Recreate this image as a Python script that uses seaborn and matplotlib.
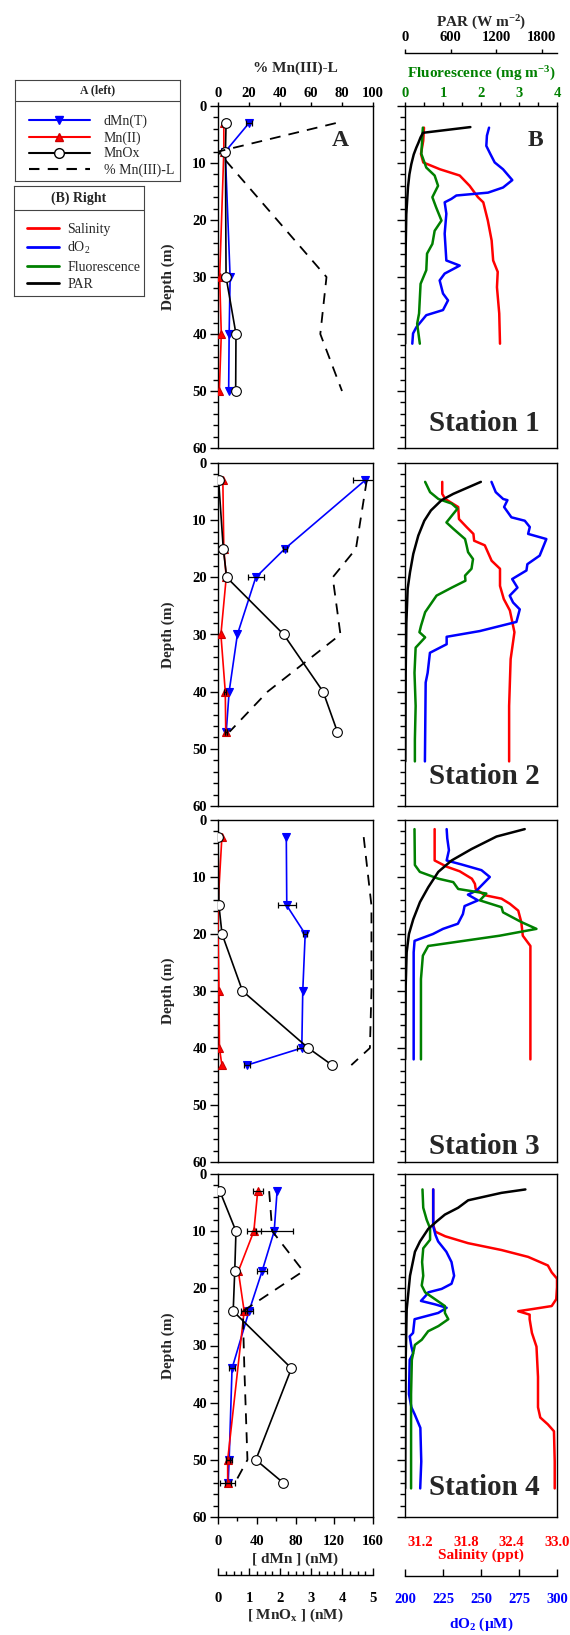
import numpy as np
import matplotlib
matplotlib.use('Agg')
import matplotlib.pyplot as plt
from matplotlib.lines import Line2D
from matplotlib.ticker import MultipleLocator
import seaborn as sns

# ---------------- panel A : discrete bottle samples ----------------
# station 1
z_a1 = [3, 8, 30, 40, 50]
dmnt_a1 = [32, 7.5, 12.5, 11.5, 11]
dmnt_err_a1 = [3.5, 0, 0, 0, 0]
mn2_z_a1 = [3, 8, 30, 40, 50]
mn2_a1 = [6, 6, 1.7, 3.4, 1.4]
mn2_err_a1 = [0, 0, 0, 0, 0]
mnox_a1 = [0.26, 0.24, 0.26, 0.58, 0.57]
pct_a1 = [76, 0, 70, 66, 80]

# station 2
z_a2 = [3, 15, 20, 30, 40, 47]
dmnt_a2 = [152, 69, 39, 20, 11.5, 8.5]
dmnt_err_a2 = [13, 2, 8.5, 0, 0, 1]
mn2_z_a2 = [3, 15, 20, 30, 40, 47]
mn2_a2 = [5, 6, 8.5, 3, 7.5, 8]
mn2_err_a2 = [0, 0, 0, 0, 1, 1]
mnox_a2 = [0.02, 0.17, 0.28, 2.12, 3.39, 3.85]
pct_a2 = [96, 89, 74, 79, 32, 7.5]

# station 3
z_a3 = [3, 15, 20, 30, 40, 43]
dmnt_a3 = [70.5, 71, 90, 87.5, 86.5, 30]
dmnt_err_a3 = [0, 9.5, 2, 0, 5, 3]
mn2_z_a3 = [3, 15, 20, 30, 40, 43]
mn2_a3 = [4, 0, 0, 1, 1.5, 4]
mn2_err_a3 = [0, 0, 0, 0, 0, 0]
mnox_a3 = [0.0, 0.03, 0.13, 0.79, 2.91, 3.68]
pct_a3 = [94, 99, 99, 99, 98, 86]

# station 4
z_a4 = [3, 10, 17, 24, 34, 50, 54]
dmnt_a4 = [61, 58, 45.5, 32, 14.5, 11.5, 10.5]
dmnt_err_a4 = [0, 19, 5, 4, 3, 3, 3]
mn2_z_a4 = [3, 10, 17, 24, 50, 54]
mn2_a4 = [41, 37, 21, 27, 10, 10]
mn2_err_a4 = [5, 7, 0, 3, 2, 8]
mnox_a4 = [0.06, 0.58, 0.54, 0.49, 2.37, 1.22, 2.10]
pct_a4 = [33, 35, 55, 16, 17, 19, 11]

# ---------------- panel B : CTD profiles ----------------
# station 1
par_z1 = [3.7, 4.7, 5.5, 6.5, 7.3, 8.5, 10.2, 12, 14.3, 19, 24.8, 30, 41.7]
par1 = [860, 237, 205, 175, 149, 115, 83, 58, 39, 17, 9, 5, 2]
fl_z1 = [3.8, 8.4, 10.8, 12.2, 14, 16, 17.8, 20.1, 21.9, 24.2, 25.9, 28.8, 31.2, 36.4, 38.2, 41.7]
fl1 = [0.47, 0.43, 0.56, 0.78, 0.87, 0.72, 0.82, 0.96, 0.78, 0.72, 0.58, 0.56, 0.41, 0.37, 0.32, 0.39]
sal_z1 = [3.8, 6.1, 8.4, 9.9, 11.1, 12.2, 14, 16, 16.9, 20.1, 23.6, 27.1, 29.1, 31.8, 36.4, 41.7]
sal1 = [31.25, 31.24, 31.21, 31.24, 31.46, 31.72, 31.85, 31.96, 32.03, 32.09, 32.14, 32.16, 32.22, 32.21,
        32.24, 32.25]
ox_z1 = [3.8, 5.2, 7, 8.4, 9.9, 11.1, 13, 14.3, 15.2, 15.7, 16.3, 16.9, 18.9, 22.4, 27.1, 28, 29.4, 30.6,
         32.9, 34.1, 35.8, 36.7, 38.8, 39.9, 41.7]
ox1 = [255.3, 253.9, 253.5, 256.1, 259, 264.5, 270.6, 264.5, 254.6, 233.8, 230.5, 226.1, 227.2, 226.1, 227.2,
       236, 226.1, 222.8, 225, 228.3, 225, 214, 207.5, 205.3, 204.8]

# station 2
par_z2 = [3.3, 5.4, 6.5, 8.3, 10.1, 12.7, 15.9, 19.1, 22, 27.9, 36.7, 52.2]
par2 = [998, 635, 481, 341, 254, 175, 109, 66, 35, 18, 9, 4]
fl_z2 = [3.3, 5.1, 6.3, 7.1, 8, 8.9, 10.4, 11.5, 13.3, 14.4, 15.6, 16.8, 18.5, 19.7, 20.6, 21.8, 23.2, 26.1,
         28.5, 29.6, 30.5, 32.3, 36.7, 42.5, 48.4, 52.2]
fl2 = [0.53, 0.66, 0.88, 1.23, 1.38, 1.27, 1.09, 1.27, 1.58, 1.62, 1.66, 1.79, 1.75, 1.58, 1.59, 1.23, 0.83,
       0.53, 0.42, 0.38, 0.53, 0.28, 0.25, 0.28, 0.26, 0.26]
sal_z2 = [3.3, 5.4, 6.3, 7.7, 9.8, 11.2, 12.4, 13.6, 14.4, 15.9, 17.1, 18.5, 21.5, 23.8, 25.8, 29.6, 34.3,
          42.5, 52.2]
sal2 = [31.49, 31.49, 31.53, 31.70, 31.71, 31.81, 31.90, 31.91, 32.05, 32.10, 32.14, 32.25, 32.25, 32.30,
        32.38, 32.44, 32.39, 32.37, 32.37]
ox_z2 = [3.3, 5.1, 6.3, 6.5, 7.7, 9.5, 10.1, 11.2, 12.4, 13.3, 16.2, 17.7, 18.8, 20.3, 21.8, 23.2, 24.4,
         25.6, 27.8, 29.4, 30.4, 31.7, 33.2, 36.7, 38.4, 52.2]
ox2 = [256.9, 259.7, 264.6, 267.4, 265.2, 270, 278.8, 282.1, 281, 293, 288.6, 280.5, 279.9, 270.5, 274,
       268.9, 271.1, 275.5, 273.3, 249.2, 227.4, 227.4, 216.4, 214.9, 213.6, 213.1]

# station 3
par_z3 = [1.6, 2.9, 5.1, 7.1, 9.1, 11.8, 14.4, 17.4, 20, 23.2, 29.1, 42]
par3 = [1575, 1204, 875, 613, 438, 306, 197, 109, 52, 22, 9, 2]
fl_z3 = [1.6, 7.9, 9.1, 10.3, 10.9, 12.1, 12.9, 14.1, 15.3, 16.2, 17.9, 19.1, 20.3, 22.1, 23.8, 27.9, 42]
fl3 = [0.25, 0.26, 0.39, 0.88, 1.27, 1.40, 2.14, 1.97, 2.54, 2.58, 3.06, 3.46, 2.49, 0.61, 0.47, 0.42, 0.42]
sal_z3 = [1.6, 7.1, 8.2, 9, 10.3, 11.2, 12.1, 13.2, 13.8, 14.7, 15.9, 17.9, 20.3, 21.2, 22.1, 42]
sal3 = [31.39, 31.39, 31.55, 31.72, 31.88, 31.92, 31.93, 32.05, 32.27, 32.38, 32.49, 32.53, 32.55, 32.60,
        32.65, 32.65]
ox_z3 = [1.6, 3.2, 5.3, 7.1, 7.8, 8.8, 10, 12.4, 13.1, 14.1, 15.1, 16.5, 18.2, 19.1, 20, 21.2, 23.2, 42]
ox3 = [227.4, 227.8, 228.9, 227.4, 237.2, 250.3, 255.8, 247, 241.4, 248, 239.2, 238.1, 234.8, 225, 218.4,
       206.3, 205.7, 205.7]

# station 4
par_z4 = [2.7, 3.3, 4.6, 5.9, 7.1, 8.3, 9.6, 11.8, 13.6, 17.8, 23.7, 32.5, 55]
par4 = [1584, 1269, 831, 700, 525, 416, 306, 197, 131, 66, 22, 9, 2]
fl_z4 = [2.7, 5.9, 8, 9.5, 11.5, 13, 15.4, 17.8, 19.5, 20.7, 21.9, 23.1, 24.3, 25.4, 26.6, 27.5, 29, 29.9,
         32.5, 38.5, 55]
fl4 = [0.46, 0.48, 0.57, 0.66, 0.66, 0.48, 0.45, 0.48, 0.44, 0.53, 0.79, 1.05, 1.05, 1.14, 0.88, 0.61, 0.44,
       0.26, 0.18, 0.16, 0.16]
sal_z4 = [2.7, 8.9, 10.1, 10.9, 12.1, 13.3, 14.5, 16, 17.2, 18.3, 19.8, 21.9, 23.1, 23.6, 24.0, 24.6, 25.4,
          27.8, 30.2, 35.5, 40.8, 42.6, 43.8, 45, 50.3, 55]
sal4 = [31.37, 31.37, 31.40, 31.53, 31.83, 32.27, 32.62, 32.88, 32.93, 33.0, 33.0, 32.99, 32.93, 32.69, 32.49,
        32.64, 32.64, 32.67, 32.73, 32.75, 32.75, 32.78, 32.88, 32.96, 32.97, 32.97]
ox_z4 = [2.7, 9.2, 10.7, 11.8, 13.6, 15.4, 17.8, 19.2, 20.1, 20.7, 21.3, 22.2, 22.8, 23.4, 24.3, 25.4, 27.8,
         28.4, 30.2, 31.4, 32.5, 38.5, 40.8, 42, 44.4, 50.3, 55]
ox4 = [218.6, 218.6, 220.1, 221.8, 227.2, 230.6, 232.3, 230.6, 224.1, 215.3, 213.6, 210.5, 219.7, 227.4,
       221.9, 206.3, 205.3, 203.1, 204.2, 205.3, 203.1, 202.6, 204.2, 206.3, 210.1, 210.7, 210]

station_names = ['Station 1', 'Station 2', 'Station 3', 'Station 4']
sal_ticks = [31.2, 31.8, 32.4, 33.0]
ox_ticks = [200, 225, 250, 275, 300]

panelA = [
    (z_a1, dmnt_a1, dmnt_err_a1, mn2_z_a1, mn2_a1, mn2_err_a1, mnox_a1, pct_a1),
    (z_a2, dmnt_a2, dmnt_err_a2, mn2_z_a2, mn2_a2, mn2_err_a2, mnox_a2, pct_a2),
    (z_a3, dmnt_a3, dmnt_err_a3, mn2_z_a3, mn2_a3, mn2_err_a3, mnox_a3, pct_a3),
    (z_a4, dmnt_a4, dmnt_err_a4, mn2_z_a4, mn2_a4, mn2_err_a4, mnox_a4, pct_a4),
]
panelB = [
    (sal_z1, sal1, ox_z1, ox1, fl_z1, fl1, par_z1, par1),
    (sal_z2, sal2, ox_z2, ox2, fl_z2, fl2, par_z2, par2),
    (sal_z3, sal3, ox_z3, ox3, fl_z3, fl3, par_z3, par3),
    (sal_z4, sal4, ox_z4, ox4, fl_z4, fl4, par_z4, par4),
]

# ---------------- style ----------------
sns.set_style('ticks')
plt.rcParams['font.family'] = ['Liberation Serif', 'DejaVu Serif']
plt.rcParams['font.weight'] = 'bold'
plt.rcParams['axes.linewidth'] = 1.0
plt.rcParams['xtick.color'] = 'black'
plt.rcParams['ytick.color'] = 'black'
plt.rcParams['axes.edgecolor'] = 'black'

W, H = 570, 1635
fig = plt.figure(figsize=(W / 100, H / 100), dpi=100)


def rect(x0, y0, x1, y1):
    return [x0 / W, 1 - y1 / H, (x1 - x0) / W, (y1 - y0) / H]


def hide_x(ax):
    ax.tick_params(axis='x', which='both', bottom=False, top=False, labelbottom=False, labeltop=False)


def depth_axis(ax, labels):
    ax.set_ylim(60, 0)
    ax.yaxis.set_major_locator(MultipleLocator(10))
    ax.yaxis.set_minor_locator(MultipleLocator(2))
    ax.tick_params(axis='y', which='major', direction='out', length=6, width=1, labelsize=10.5, pad=2,
                   left=True, right=False, labelleft=labels)
    ax.tick_params(axis='y', which='minor', direction='out', length=3.5, width=1, left=True, right=False)


def only_spine(ax, keep=None):
    for k, s in ax.spines.items():
        s.set_visible(k == keep)


rows = [(106, 448), (463, 806), (820, 1162), (1174, 1517)]
station_y = [0.073, 0.085, 0.045, 0.085]
AX0, AX1 = 218, 373
BX0, BX1 = 405, 557

for i, (top, bot) in enumerate(rows):
    z, dmnt, dmnt_err, mz, mn2, mn2_err, mnox, pct = panelA[i]
    sz, sal, oz, ox, fz, fl, pz, par = panelB[i]

    # ---------- panel A ----------
    axA = fig.add_axes(rect(AX0, top, AX1, bot))
    axM = axA.twiny()
    axP = axA.twiny()

    sns.lineplot(x=dmnt, y=z, ax=axA, sort=False, estimator=None, color='blue', lw=1.2,
                 marker='v', markersize=6, markeredgecolor='blue', markeredgewidth=0.8, legend=False, zorder=3)
    sns.lineplot(x=mn2, y=mz, ax=axA, sort=False, estimator=None, color='red', lw=1.2,
                 marker='^', markersize=6, markeredgecolor='#cc0000', markeredgewidth=0.8, legend=False, zorder=3)
    for xs, ys, es in ((dmnt, z, dmnt_err), (mn2, mz, mn2_err)):
        sel = [k for k, e in enumerate(es) if e > 0]
        if sel:
            axA.errorbar([xs[k] for k in sel], [ys[k] for k in sel], xerr=[es[k] for k in sel], fmt='none',
                         ecolor='black', elinewidth=0.9, capsize=2.5, capthick=0.9, zorder=4)
    sns.lineplot(x=mnox, y=z, ax=axM, sort=False, estimator=None, color='black', lw=1.2,
                 marker='o', markersize=7, markerfacecolor='white', markeredgecolor='black',
                 markeredgewidth=0.8, legend=False)
    sns.lineplot(x=pct, y=z, ax=axP, sort=False, estimator=None, color='black', lw=1.3,
                 linestyle=(0, (6, 4.5)), legend=False)

    axA.set_xlim(0, 160)
    axM.set_xlim(0, 5)
    axP.set_xlim(0, 100)
    depth_axis(axA, True)
    for a in (axA, axM, axP):
        a.set_xlabel('')
        a.set_ylabel('')
        hide_x(a)
    only_spine(axM)
    only_spine(axP)

    if i == 0:
        axP.xaxis.set_major_locator(MultipleLocator(20))
        axP.tick_params(axis='x', which='major', top=True, labeltop=True, direction='out', length=3,
                        width=1, labelsize=10.5, pad=1.5)
        axA.text(0.79, 0.90, 'A', transform=axA.transAxes, ha='center', va='center', fontsize=17,
                 fontweight='bold')
    if i == 3:
        axA.xaxis.set_major_locator(MultipleLocator(40))
        axA.xaxis.set_minor_locator(MultipleLocator(20))
        axA.tick_params(axis='x', which='major', bottom=True, labelbottom=True, direction='out', length=5,
                        width=1, labelsize=10.5, pad=8)
        axA.tick_params(axis='x', which='minor', bottom=True, direction='out', length=3, width=1)
        axM.spines['bottom'].set_visible(True)
        axM.spines['bottom'].set_position(('outward', 41.8))
        axM.xaxis.set_ticks_position('bottom')
        axM.xaxis.set_major_locator(MultipleLocator(1))
        axM.xaxis.set_minor_locator(MultipleLocator(0.25))
        axM.tick_params(axis='x', which='major', bottom=True, labelbottom=True, direction='in', length=5,
                        width=1, labelsize=10.5, pad=12)
        axM.tick_params(axis='x', which='minor', bottom=True, direction='in', length=3, width=1)

    fig.text(168 / W, 1 - (top + bot) / 2 / H, 'Depth (m)', rotation=90, ha='center', va='center',
             fontsize=11, fontweight='bold')

    # ---------- panel B ----------
    axS = fig.add_axes(rect(BX0, top, BX1, bot))
    axO = axS.twiny()
    axF = axS.twiny()
    axR = axS.twiny()

    sns.lineplot(x=sal, y=sz, ax=axS, sort=False, estimator=None, color='red', lw=1.8, legend=False)
    sns.lineplot(x=ox, y=oz, ax=axO, sort=False, estimator=None, color='blue', lw=1.8, legend=False)
    sns.lineplot(x=fl, y=fz, ax=axF, sort=False, estimator=None, color='green', lw=1.8, legend=False)
    sns.lineplot(x=par, y=pz, ax=axR, sort=False, estimator=None, color='black', lw=1.8, legend=False)

    axS.set_xlim(31.0, 33.0)
    axO.set_xlim(200, 300)
    axF.set_xlim(0, 4)
    axR.set_xlim(0, 2000)
    depth_axis(axS, False)
    for a in (axS, axO, axF, axR):
        a.set_xlabel('')
        a.set_ylabel('')
        hide_x(a)
    only_spine(axO)
    only_spine(axF)
    only_spine(axR)

    axS.text(0.52, station_y[i], station_names[i], transform=axS.transAxes, ha='center', va='center',
             fontsize=21, fontweight='bold')

    if i == 0:
        axS.text(0.855, 0.90, 'B', transform=axS.transAxes, ha='center', va='center', fontsize=17,
                 fontweight='bold')
        axF.xaxis.set_major_locator(MultipleLocator(1))
        axF.xaxis.set_minor_locator(MultipleLocator(0.5))
        axF.tick_params(axis='x', which='both', top=True, direction='out', length=3, width=1)
        axF.tick_params(axis='x', which='major', labeltop=True, labelsize=10.5, pad=1.5,
                        labelcolor='green')
        axR.spines['top'].set_visible(True)
        axR.spines['top'].set_position(('outward', 38.5))
        axR.xaxis.set_major_locator(MultipleLocator(600))
        axR.tick_params(axis='x', which='major', top=True, labeltop=True, direction='out', length=3,
                        width=1, labelsize=10.5, pad=3)
    if i == 3:
        axS.set_xticks(sal_ticks, labels=[f'{t:.1f}' for t in sal_ticks])
        axS.tick_params(axis='x', which='major', bottom=True, labelbottom=True, length=0, labelsize=10.5,
                        pad=14, labelcolor='red')
        axO.spines['bottom'].set_visible(True)
        axO.spines['bottom'].set_position(('outward', 42.5))
        axO.xaxis.set_ticks_position('bottom')
        axO.set_xticks(ox_ticks)
        axO.tick_params(axis='x', which='major', bottom=True, labelbottom=True, direction='in', length=5,
                        width=1, labelsize=10.5, pad=12, labelcolor='blue')

# ---------------- axis titles ----------------
fig.text((AX0 + AX1) / 2 / W, 1 - 72 / H, '% Mn(III)-L', ha='center', va='baseline', fontsize=11)
fig.text((BX0 + BX1) / 2 / W, 1 - 78 / H, 'Fluorescence (mg m$\\mathregular{^{-3}}$)', ha='center',
         va='baseline', fontsize=11, color='green')
fig.text((BX0 + BX1) / 2 / W, 1 - 27 / H, 'PAR (W m$\\mathregular{^{-2}}$)', ha='center', va='baseline',
         fontsize=11)
fig.text((AX0 + AX1) / 2 / W, 1 - 1563 / H, '[ dMn ] (nM)', ha='center', va='baseline', fontsize=11)
fig.text((AX0 + AX1) / 2 / W, 1 - 1619 / H, '[ MnO$\\mathregular{_x}$ ] (nM)', ha='center', va='baseline',
         fontsize=11)
fig.text((BX0 + BX1) / 2 / W, 1 - 1559 / H, 'Salinity (ppt)', ha='center', va='baseline', fontsize=11,
         color='red')
fig.text((BX0 + BX1) / 2 / W, 1 - 1628 / H, 'dO$\\mathregular{_2}$ (\u00b5M)', ha='center', va='baseline',
         fontsize=11, color='blue')

# ---------------- legend boxes ----------------
def legend_box(x0, y0, x1, y1, yh, title, tsize, handles, labels, hlen, hpad, lspace, bpad):
    lg = fig.add_axes(rect(x0, y0, x1, y1))
    lg.set_xticks([])
    lg.set_yticks([])
    for s in lg.spines.values():
        s.set_color('#444444')
        s.set_linewidth(0.8)
    frac = 1 - (yh - y0) / (y1 - y0)
    lg.axhline(frac, color='#444444', lw=0.8)
    lg.text(0.5, (1 + frac) / 2, title, transform=lg.transAxes, ha='center', va='center', fontsize=tsize,
            fontweight='bold')
    lg.legend(handles, labels, loc='upper left', bbox_to_anchor=(0, frac), frameon=False,
              prop={'size': 10, 'weight': 'normal'}, handlelength=hlen, handletextpad=hpad,
              labelspacing=lspace, borderaxespad=0.2, borderpad=bpad, numpoints=1)


handlesA = [
    Line2D([], [], color='blue', lw=1.5, marker='v', ms=6, mec='blue'),
    Line2D([], [], color='red', lw=1.5, marker='^', ms=6, mec='#cc0000'),
    Line2D([], [], color='black', lw=1.5, marker='o', ms=7, mfc='white', mec='black'),
    Line2D([], [], color='black', lw=1.5, linestyle=(0, (5, 4))),
]
labelsA = ['dMn(T)', 'Mn(II)', 'MnOx', '% Mn(III)-L']
legend_box(15, 80, 180, 181, 101, 'A (left)', 8.5, handlesA, labelsA, 4.4, 1.0, 0.2, 0.8)

handlesB = [Line2D([], [], color=c, lw=2) for c in ('red', 'blue', 'green', 'black')]
labelsB = ['Salinity', 'dO$\\mathregular{_2}$', 'Fluorescence', 'PAR']
legend_box(14, 186, 144, 296, 210, '(B) Right', 10, handlesB, labelsB, 2.3, 0.6, 0.3, 0.75)

fig.savefig('out.png', dpi=100)
